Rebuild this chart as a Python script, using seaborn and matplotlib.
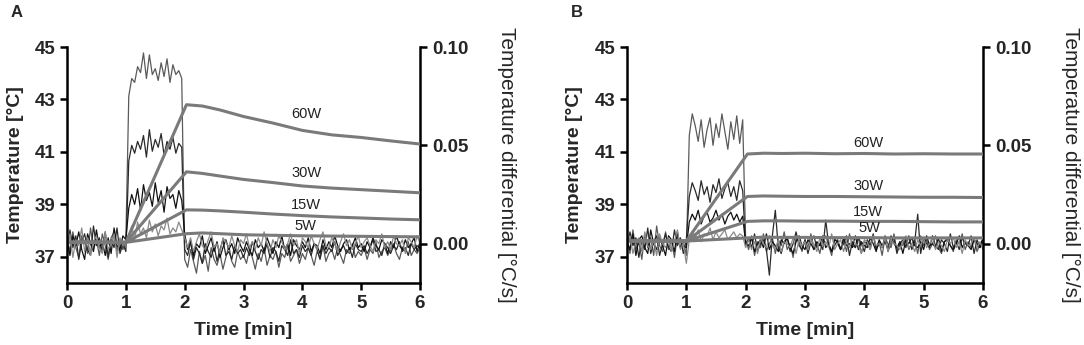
import matplotlib
matplotlib.use("Agg")
from matplotlib import pyplot as plt
from matplotlib.ticker import FormatStrFormatter
import numpy as np
import pandas as pd
import seaborn as sns

# ----------------------------- data
powers = ["60W", "30W", "15W", "5W"]

# temperature curves [°C]
t_temp = [0, 0.25, 0.5, 0.75, 1.0, 2.03, 2.3, 2.6, 3.0, 3.5, 4.0, 4.5, 5.0, 5.5, 6.0]
temp_a = {
    "60W": [37.55, 37.57, 37.54, 37.56, 37.55, 42.8, 42.75, 42.6, 42.35, 42.1, 41.82, 41.65, 41.55, 41.42, 41.3],
    "30W": [37.56, 37.54, 37.56, 37.55, 37.55, 40.24, 40.18, 40.08, 39.95, 39.83, 39.7, 39.62, 39.56, 39.5, 39.44],
    "15W": [37.54, 37.56, 37.55, 37.54, 37.55, 38.79, 38.78, 38.75, 38.7, 38.63, 38.57, 38.52, 38.48, 38.44, 38.41],
    "5W":  [37.55, 37.55, 37.57, 37.55, 37.55, 37.88, 37.91, 37.88, 37.84, 37.82, 37.8, 37.79, 37.78, 37.77, 37.76],
}
temp_b = {
    "60W": [37.6, 37.62, 37.59, 37.61, 37.6, 40.92, 40.95, 40.94, 40.95, 40.93, 40.94, 40.92, 40.93, 40.92, 40.92],
    "30W": [37.6, 37.59, 37.61, 37.6, 37.6, 39.3, 39.32, 39.31, 39.3, 39.3, 39.29, 39.28, 39.27, 39.27, 39.26],
    "15W": [37.61, 37.6, 37.6, 37.59, 37.6, 38.35, 38.37, 38.37, 38.36, 38.36, 38.35, 38.35, 38.34, 38.33, 38.33],
    "5W":  [37.6, 37.61, 37.6, 37.6, 37.6, 37.72, 37.75, 37.74, 37.74, 37.73, 37.73, 37.72, 37.72, 37.72, 37.72],
}

# temperature differential, in 0.001 °C/s, sampled every 0.05 min
t_diff = [i * 0.05 for i in range(121)]
diff_a = {
    "60W": [3, -4, 6, -2, -7, 4, 1, -5, 8, -3, 2, -6, 5, -1, -8, 3, 6, -4, 2, -3,
            1,
            75, 84, 82, 90, 87, 97, 84, 96, 86, 89, 83, 92, 85, 94, 82, 91, 86, 88, 84,
            -8,
            -12, -3, -9, -15, -4, -10, -6, -14, -2, -8, -11, -5, -13, -7, -1, -9, -12, -4, -8, -6,
            -10, -3, -7, -13, -5, -9, -2, -11, -6, -8, -4, -12, -5, -7, -1, -9, -6, -3, -10, -5,
            -8, -2, -6, -11, -4, -7, -1, -9, -5, -3, -8, -2, -6, -10, -3, -5, 0, -7, -4, -6,
            -2, -8, -3, -5, 1, -7, -4, -2, -6, -3, 0, -5, -8, -2, -4, 1, -6, -3, -5, -2],
    "30W": [-5, 7, -2, 4, -8, 1, 5, -3, -6, 9, -1, 3, -4, 6, -7, 2, -2, 8, -5, 0,
            -4,
            42, 50, 46, 52, 48, 55, 44, 58, 47, 53, 49, 56, 45, 52, 48, 54, 46, 51, 49,
            -3,
            -6, 1, -8, -2, -5, -10, 0, -4, -7, -1, -9, -3, 2, -6, -4, -8, -1, -5, -3, -7,
            -2, -6, 1, -4, -8, -3, -5, 0, -7, -2, -4, -9, -1, -3, -6, 2, -5, -3, -7, -1,
            -4, -2, -6, 0, -3, -8, -1, -5, -2, -4, 1, -6, -3, -1, -5, -2, -7, 0, -3, -4,
            -1, -5, -2, 2, -4, -3, -6, 0, -2, -5, -1, -3, 1, -4, -2, -6, 0, -3, -1, -2],
    "15W": [2, -6, 4, -1, 6, -3, -8, 5, 0, -4, 7, -2, 1, -6, 3, -5, 8, -1, -3, 4,
            2,
            18, 25, 20, 28, 17, 30, 22, 26, 19, 31, 21, 27, 16, 29, 23, 25, 18, 27, 22,
            5,
            -3, 2, -6, 0, -2, 4, -5, -1, 3, -4, 1, -7, -2, 2, -3, 0, -5, 3, -1, -4,
            1, -3, -6, 2, -2, 0, -4, 3, -1, -5, 1, -2, 4, -3, 0, -6, 2, -1, -3, 1,
            -2, 3, -4, 0, -1, -5, 2, -3, 1, -2, 4, -1, -4, 0, 2, -3, -1, 3, -2, 0,
            -4, 1, -2, 3, -1, -3, 2, 0, -5, 1, -2, 4, -1, -3, 2, -2, 0, 3, -4, 1],
    "5W":  [-3, 5, -7, 2, -1, 8, -4, 3, -6, 1, 4, -2, -5, 6, -3, 0, 5, -7, 3, -1,
            0,
            4, 9, 2, 11, 5, 8, 3, 12, 6, 10, 4, 9, 7, 13, 5, 8, 6, 11, 7,
            3,
            -2, 3, -4, 1, 5, -1, -3, 2, 6, -2, 0, -5, 3, 1, -2, 4, -1, -4, 2, 0,
            5, -2, 1, -3, 3, -1, 6, 0, -4, 2, -2, 4, 1, -3, 0, 5, -1, 2, -5, 3,
            1, -2, 4, 0, -3, 2, 6, -1, -2, 3, 0, -4, 1, 5, -1, 2, -3, 0, 4, -2,
            1, 3, -1, -4, 2, 0, 5, -2, 1, -3, 4, 0, -1, 2, -5, 3, 1, -2, 4, 0],
}
diff_b = {
    "60W": [4, -5, 7, -3, 1, -8, 5, -2, 3, -6, 9, -1, -4, 6, -3, 2, -7, 4, -2, 1,
            -6,
            55, 66, 60, 52, 63, 49, 58, 64, 50, 61, 54, 66, 57, 48, 62, 53, 65, 51, 63,
            2,
            -3, 4, -6, 1, -2, 5, -4, 0, 3, -5, 2, -1, 6, -3, 0, -7, 3, 1, -4, 2,
            -2, 5, -3, 0, -5, 2, 4, -1, -6, 3, 0, -3, 2, -4, 5, -1, -2, 3, -5, 1,
            0, -3, 4, -2, 1, -6, 3, 0, -2, 5, -4, 1, -1, 3, -3, 0, 2, -5, 4, -1,
            2, -3, 0, 4, -2, -5, 1, 3, -1, -4, 2, 0, 5, -3, 1, -2, 3, -4, 0, 2],
    "30W": [-4, 6, -1, 3, -7, 2, -3, 8, -5, 1, 4, -6, 0, 5, -2, -4, 7, -1, 3, -5,
            2,
            24, 31, 27, 22, 32, 25, 29, 21, 30, 26, 33, 23, 28, 31, 24, 29, 22, 32, 27,
            -1,
            3, -2, 5, -4, 0, 2, -3, -16, 4, 17, -2, -5, 1, 3, -4, 0, 6, -1, -3, 2,
            -5, 1, 4, -2, 0, -3, 12, -1, -4, -1, 2, -3, 0, 4, -6, 1, -2, 3, 0, -4,
            2, -1, 5, -3, 0, -2, 4, -4, 1, 3, -5, 0, 2, -2, 4, -3, 1, 15, -5, 3,
            0, -2, 4, -1, -3, 2, 0, -4, 5, -2, 1, -3, 3, 0, -1, 4, -5, 2, -2, 1],
    "15W": [1, -3, 5, -6, 2, 4, -2, -5, 7, 0, -3, 3, -1, -6, 4, 2, -4, 6, -2, -1,
            -2,
            11, 15, 12, 17, 10, 14, 16, 11, 13, 17, 12, 15, 10, 14, 16, 12, 15, 11, 14,
            0,
            -1, 3, -4, 0, 2, -2, 5, -3, 1, -1, -4, 2, 0, 3, -2, -5, 1, 4, -1, -3,
            2, 0, -3, 1, -1, 4, -2, 0, -4, 2, 1, -3, 3, -1, 0, -2, 4, -3, 1, -1,
            -2, 3, 0, -4, 2, -1, 1, -3, 4, 0, -2, 1, -5, 2, 0, 3, -1, -2, 1, -3,
            4, -1, 0, -2, 3, -4, 1, 2, -1, -3, 0, 4, -2, 1, -1, -3, 2, 0, -2, 3],
    "5W":  [-2, 4, -5, 1, 3, -4, 6, -1, -3, 2, -6, 5, 0, -2, 3, -4, 1, 7, -3, 0,
            -10,
            2, 6, 3, 7, 1, 5, 4, 8, 2, 6, 3, 5, 7, 2, 4, 6, 3, 5, 4,
            -2,
            2, -3, 1, -5, 3, 0, -2, 4, -1, -3, 2, -4, 1, 0, -2, 3, -5, 2, -1, 1,
            -3, 2, 0, -4, 3, -1, 1, -2, 5, -3, 0, 2, -4, 1, -2, 3, 0, -1, -5, 2,
            1, -3, 4, -1, 0, -2, 3, -4, 2, 0, -1, -3, 1, 4, -2, 0, -4, 2, -1, 3,
            -2, 0, 3, -3, 1, -1, -4, 2, 0, 3, -2, 1, -5, 2, -1, 0, 3, -2, 1, -3],
}

# label anchors (time [min], temperature [°C])
label_pos_a = {"60W": (3.81, 42.45), "30W": (3.81, 40.2), "15W": (3.81, 38.98), "5W": (3.86, 38.18)}
label_pos_b = {"60W": (3.81, 41.35), "30W": (3.81, 39.7), "15W": (3.81, 38.7), "5W": (3.9, 38.1)}

diff_colors = {"60W": "#5a5a5a", "30W": "#2a2a2a", "15W": "#111111", "5W": "#8a8a8a"}
temp_color = "#7a7a7a"

# ----------------------------- style
sns.set_style("ticks")
plt.rcParams["font.family"] = ["Liberation Sans", "DejaVu Sans"]

fig = plt.figure(figsize=(10.84, 3.45), dpi=100)
axes = [fig.add_axes([0.0618, 0.1797, 0.3257, 0.684]),
        fig.add_axes([0.5784, 0.1797, 0.3284, 0.684])]
panels = [("A", temp_a, diff_a, label_pos_a, 0.01),
          ("B", temp_b, diff_b, label_pos_b, 0.527)]

for ax, (letter, temps, diffs, label_pos, letter_x) in zip(axes, panels):
    ax2 = ax.twinx()

    for p in powers:
        sns.lineplot(x=t_diff, y=np.array(diffs[p]) / 1000.0, ax=ax2,
                     color=diff_colors[p], lw=0.9)
    for p in powers:
        sns.lineplot(x=t_temp, y=temps[p], ax=ax, color=temp_color, lw=2.2)
        tx, ty = label_pos[p]
        ax.text(tx, ty, p, fontsize=10.5, color="#222222", ha="left", va="center")

    ax.set_zorder(ax2.get_zorder() + 1)
    ax.patch.set_visible(False)

    ax.set_xlim(0, 6)
    ax.set_ylim(36, 45)
    ax2.set_ylim(-0.02, 0.10)
    ax.set_xticks(range(7))
    ax.set_yticks([37, 39, 41, 43, 45])
    ax2.set_yticks([0.0, 0.05, 0.10])
    ax2.yaxis.set_major_formatter(FormatStrFormatter("%.2f"))

    for a in (ax, ax2):
        for s in a.spines.values():
            s.set_linewidth(1.8)
            s.set_color("black")
        a.tick_params(width=1.8, length=5, labelsize=13.5, color="black")
        for lab in a.get_xticklabels() + a.get_yticklabels():
            lab.set_fontweight("bold")
    ax.spines["top"].set_visible(False)
    ax.spines["right"].set_visible(False)
    ax2.spines["top"].set_visible(False)
    ax2.spines["left"].set_visible(False)
    ax2.spines["bottom"].set_visible(False)

    ax.set_xlabel("Time [min]", fontsize=14, fontweight="bold", va="center")
    ax.xaxis.set_label_coords(0.5, -0.2)
    ax.set_ylabel("Temperature [°C]", fontsize=14, fontweight="bold", va="center")
    ax.yaxis.set_label_coords(-0.147, 0.5)
    ax2.set_ylabel("Temperature differential [°C/s]", fontsize=15,
                   rotation=270, va="center")
    ax2.yaxis.set_label_coords(1.245, 0.5)

    fig.text(letter_x, 0.965, letter, fontsize=12, fontweight="bold",
             ha="left", va="center")

path = "out.png"
plt.savefig(path, dpi=100)
print(f"Saved figure to {path}.")
plt.close()
